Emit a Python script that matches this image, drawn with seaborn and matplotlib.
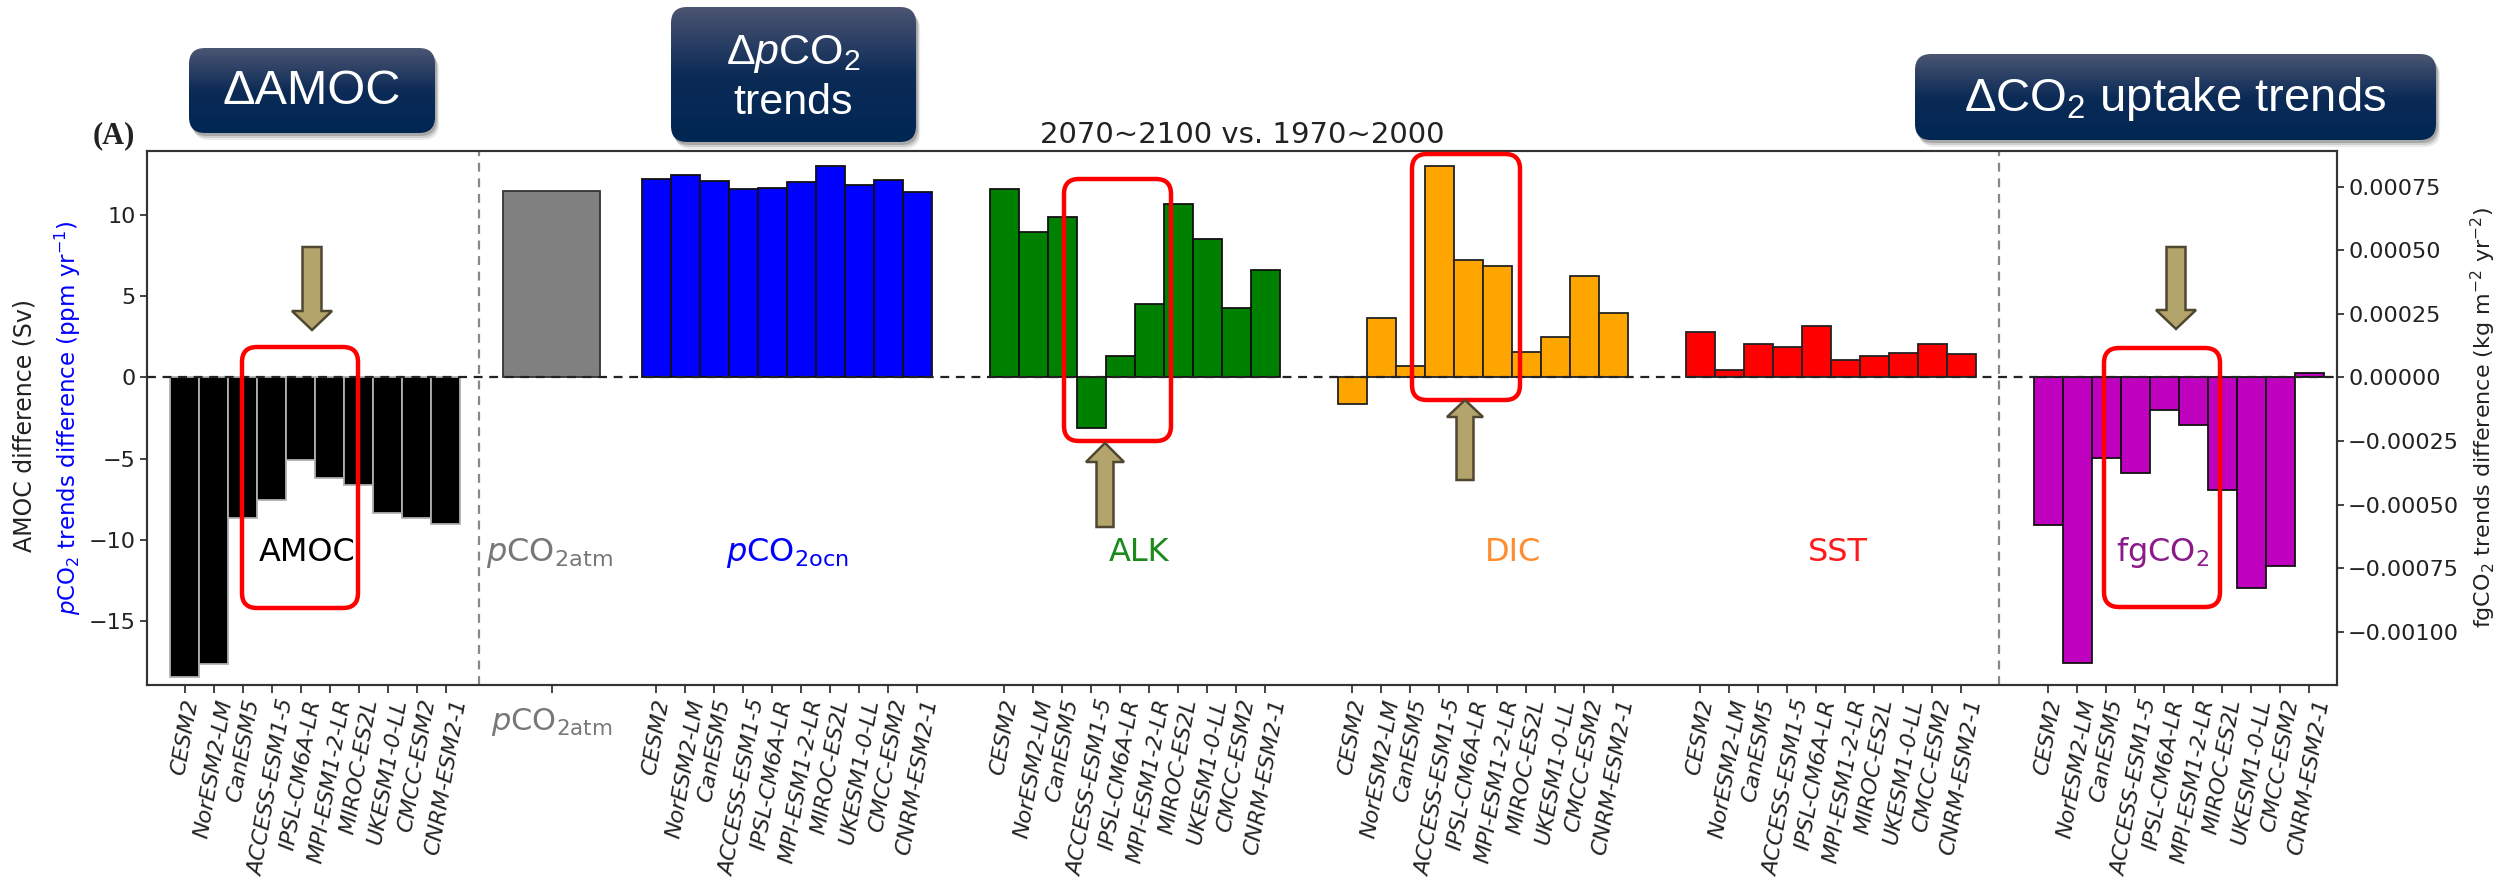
import numpy as np
import pandas as pd
import matplotlib
matplotlib.use("Agg")
import matplotlib.pyplot as plt
import seaborn as sns
from matplotlib.patches import FancyBboxPatch, Polygon
from matplotlib.transforms import IdentityTransform, blended_transform_factory
from matplotlib.ticker import FuncFormatter

# ---------------------------------------------------------------- data
models = ["CESM2", "NorESM2-LM", "CanESM5", "ACCESS-ESM1-5", "IPSL-CM6A-LR",
          "MPI-ESM1-2-LR", "MIROC-ES2L", "UKESM1-0-LL", "CMCC-ESM2", "CNRM-ESM2-1"]

amoc_diff = [-18.44, -17.63, -8.66, -7.56, -5.07, -6.17, -6.63, -8.37, -8.66, -9.00]
pco2_atm_diff = [11.46]
pco2_ocn_diff = [12.22, 12.47, 12.10, 11.61, 11.69, 12.02, 13.01, 11.85, 12.18, 11.44]
alk_diff = [11.63, 8.98, 9.88, -3.10, 1.31, 4.50, 10.68, 8.53, 4.25, 6.64]
dic_diff = [-1.62, 3.64, 0.68, 13.01, 7.21, 6.84, 1.56, 2.51, 6.23, 3.99]
sst_diff = [2.81, 0.45, 2.05, 1.87, 3.18, 1.05, 1.34, 1.52, 2.05, 1.42]
fgco2_diff = [-0.000579, -0.001121, -0.000315, -0.000376, -0.000129,
              -0.000187, -0.000444, -0.000829, -0.000743, 0.0000157]

title = "2070~2100 vs. 1970~2000"

# ---------------------------------------------------------------- style
W, H, DPI = 2506, 886, 100
sns.set_theme(style="white")
plt.rcParams.update({
    "mathtext.fontset": "dejavusans",
    "mathtext.rm": "Liberation Sans",
    "mathtext.it": "Liberation Sans:italic",
    "mathtext.bf": "Liberation Sans:bold",
    "axes.unicode_minus": True,
})
plt.rcParams["font.family"] = ["DejaVu Sans"]

fig = plt.figure(figsize=(W / DPI, H / DPI), dpi=DPI, facecolor="white")
PX = IdentityTransform()


def fy(y_top):
    """Convert a top-based pixel row into display coordinates."""
    return H - y_top


ax_l, ax_r, ax_t, ax_b = 147, 2337, 151, 685
ax = fig.add_axes([ax_l / W, 1 - ax_b / H, (ax_r - ax_l) / W, (ax_b - ax_t) / H])
ax2 = ax.twinx()

# group offsets along the x axis, in bar widths
n = len(models)
x_amoc = 0.0 + np.arange(n)
x_atm = np.array([12.65])
x_ocn = 16.25 + np.arange(n)
x_alk = 28.25 + np.arange(n)
x_dic = 40.25 + np.arange(n)
x_sst = 52.25 + np.arange(n)
x_fg = 64.25 + np.arange(n)


def bars(axis, xs, vals, color, edge, width=1.0, lw=1.3):
    df = pd.DataFrame({"pos": xs, "val": vals})
    sns.barplot(data=df, x="pos", y="val", native_scale=True, width=width,
                color=color, saturation=1, edgecolor=edge, linewidth=lw,
                errorbar=None, ax=axis, zorder=2)


bars(ax, x_amoc, amoc_diff, "black", "#b0b0b0")
bars(ax, x_atm, pco2_atm_diff, "#808080", "#333333", width=3.35)
bars(ax, x_ocn, pco2_ocn_diff, "#0000ff", "#111111")
bars(ax, x_alk, alk_diff, "#008000", "#111111")
bars(ax, x_dic, dic_diff, "#ffa500", "#222222")
bars(ax, x_sst, sst_diff, "#ff0000", "#222222")
bars(ax2, x_fg, fgco2_diff, "#bf00bf", "#111111")

ylim_l = (-18.95, 13.95)
ylim_r = (-0.001209, 0.00089)
ax.set_ylim(*ylim_l)
ax2.set_ylim(*ylim_r)
xlim = (-1.31, 74.21)
ax.set_xlim(*xlim)
ax2.set_xlim(*xlim)

# reference lines
ax2.axhline(0, color="#222222", ls=(0, (4, 3)), lw=1.6, zorder=5)
for xv in (10.15, 62.55):
    ax2.axvline(xv, color="#888888", ls=(0, (4, 3)), lw=1.6, zorder=1)

# x ticks: one per model bar, one for the atmospheric bar
ticks = np.concatenate([x_amoc, x_atm, x_ocn, x_alk, x_dic, x_sst, x_fg])
atm_label = r"$p$CO$_{2\mathrm{atm}}$"
labels = models + [""] + models * 5
ax.set_xticks(ticks)
ax.set_xticklabels(labels, rotation=80, fontsize=16, fontstyle="italic")
ax.set_xlabel("")
ax.set_ylabel("")
ax2.set_xlabel("")
ax2.set_ylabel("")

# the atmospheric bar is labelled horizontally beneath its tick
ax.text(x_atm[0], -0.069, atm_label, transform=blended_transform_factory(ax.transData, ax.transAxes),
        fontsize=22, color="#777777", ha="center", va="center")

ax.set_yticks([-15, -10, -5, 0, 5, 10])
ax2.set_yticks([-0.001, -0.00075, -0.0005, -0.00025, 0, 0.00025, 0.0005, 0.00075])
ax2.yaxis.set_major_formatter(FuncFormatter(lambda v, p: f"{v:.5f}".replace("-", "\u2212")))

ax.tick_params(axis="y", which="major", left=True, direction="out", length=5,
               width=1.2, labelsize=16, pad=3, colors="#222222")
ax.tick_params(axis="x", which="major", bottom=True, direction="out", length=6,
               width=1.2, pad=3, colors="#222222")
ax2.tick_params(axis="y", which="major", right=True, direction="out", length=5,
                width=1.2, labelsize=16, pad=3, colors="#222222")
for a in (ax, ax2):
    for s in a.spines.values():
        s.set_color("#333333")
        s.set_linewidth(1.5)

ax.set_title(title, fontsize=21, pad=6, color="#222222")

# group names inside the plot
group_text = [
    (4.2, "AMOC", "black"),
    (12.55, r"$p$CO$_{2\mathrm{atm}}$", "#777777"),
    (20.76, r"$p$CO$_{2\mathrm{ocn}}$", "#0000ff"),
    (32.9, "ALK", "#1a8a1a"),
    (45.8, "DIC", "#ff8c2e"),
    (57.0, "SST", "#ff1a1a"),
    (68.2, r"fgCO$_2$", "#8b1a8b"),
]
for xg, s, c in group_text:
    ax.text(xg, -10.8, s, color=c, fontsize=23, ha="center", va="center", zorder=6)

# axis titles
fig.text(25 / W, fy(425) / H, "AMOC difference (Sv)", rotation=90, fontsize=17,
         ha="center", va="center", color="#222222")
fig.text(68 / W, fy(418) / H, r"$p$CO$_2$ trends difference (ppm yr$^{-1}$)",
         rotation=90, fontsize=16.5, ha="center", va="center", color="#0000ff")
fig.text(2483 / W, fy(418) / H, r"fgCO$_2$ trends difference (kg m$^{-2}$ yr$^{-2}$)",
         rotation=90, fontsize=16, ha="center", va="center", color="#222222")

fig.text(114, fy(136), "(A)", transform=PX, fontsize=22, fontweight="bold",
         family="Liberation Serif", ha="center", va="center", color="#222222")


# ---------------------------------------------------------------- header panels
def gradient(h, w):
    top = np.array([0x4b, 0x55, 0x72]) / 255
    mid = np.array([0x0c, 0x2b, 0x57]) / 255
    bot = np.array([0x00, 0x26, 0x52]) / 255
    t = np.linspace(0, 1, h)[:, None]
    col = np.where(t < 0.5, top + (mid - top) * (t / 0.5), mid + (bot - mid) * ((t - 0.5) / 0.5))
    arr = np.ones((h, w, 4))
    arr[..., :3] = col[:, None, :]
    return arr


def header(x0, y0, x1, y1, r=16):
    w, h = x1 - x0, y1 - y0
    yb = fy(y1)
    for off, alpha in ((7, 0.08), (5, 0.12), (3, 0.18)):
        sh = FancyBboxPatch((x0 + r + off * 0.6, yb + r - off), w - 2 * r, h - 2 * r,
                            boxstyle=f"round,pad={r},rounding_size={r}",
                            transform=PX, fc="black", ec="none", alpha=alpha, zorder=8)
        fig.add_artist(sh)
    clip = FancyBboxPatch((x0 + r, yb + r), w - 2 * r, h - 2 * r,
                          boxstyle=f"round,pad={r},rounding_size={r}",
                          transform=PX, fc="none", ec="none", zorder=9)
    fig.add_artist(clip)
    im = fig.figimage(gradient(h, w), xo=x0, yo=yb, origin="upper", zorder=9)
    im.set_clip_path(clip)


header(189, 48, 435, 133)
header(671, 7, 916, 142)
header(1915, 54, 2436, 140)

box_font = dict(family="Liberation Sans", color="white", ha="center", va="center",
                transform=PX, zorder=10)
t1 = fig.text(312, fy(92), "\u0394AMOC", fontsize=35, **box_font)
t2 = fig.text(793, fy(54), "\u0394$p$CO$_2$", fontsize=31, **box_font)
t2.set_math_fontfamily("custom")
t3 = fig.text(793, fy(103), "trends", fontsize=31, **box_font)
t4 = fig.text(2175, fy(99), "\u0394CO$_2$ uptake trends", fontsize=34, **box_font)
t4.set_math_fontfamily("custom")


# ---------------------------------------------------------------- highlights
def red_box(x0, y0, x1, y1, r=15):
    p = FancyBboxPatch((x0 + r, fy(y1) + r), x1 - x0 - 2 * r, y1 - y0 - 2 * r,
                       boxstyle=f"round,pad={r},rounding_size={r}", transform=PX,
                       fc="none", ec="#ff0000", lw=3.2, zorder=12)
    fig.add_artist(p)


red_box(242, 347, 358, 608)
red_box(1064, 179, 1171, 441)
red_box(1412, 154, 1520, 400)
red_box(2104, 348, 2220, 607)


def block_arrow(xc, y_tail, y_tip, head_len=19, shaft=19, head=40):
    d = 1 if y_tip > y_tail else -1
    yh = y_tip - d * head_len
    pts = [(xc - shaft / 2, y_tail), (xc + shaft / 2, y_tail), (xc + shaft / 2, yh),
           (xc + head / 2, yh), (xc, y_tip), (xc - head / 2, yh), (xc - shaft / 2, yh)]
    pts = [(x, fy(y)) for x, y in pts]
    poly = Polygon(pts, closed=True, transform=PX, fc="#b3a46c", ec="#4f4731",
                   lw=1.8, zorder=12)
    fig.add_artist(poly)


block_arrow(312, 247, 330)
block_arrow(2176, 247, 329)
block_arrow(1105, 527, 443, head_len=19, shaft=17, head=38)
block_arrow(1465, 480, 400, head_len=17, shaft=17, head=36)

fig.savefig("out.png", dpi=DPI, facecolor="white")
